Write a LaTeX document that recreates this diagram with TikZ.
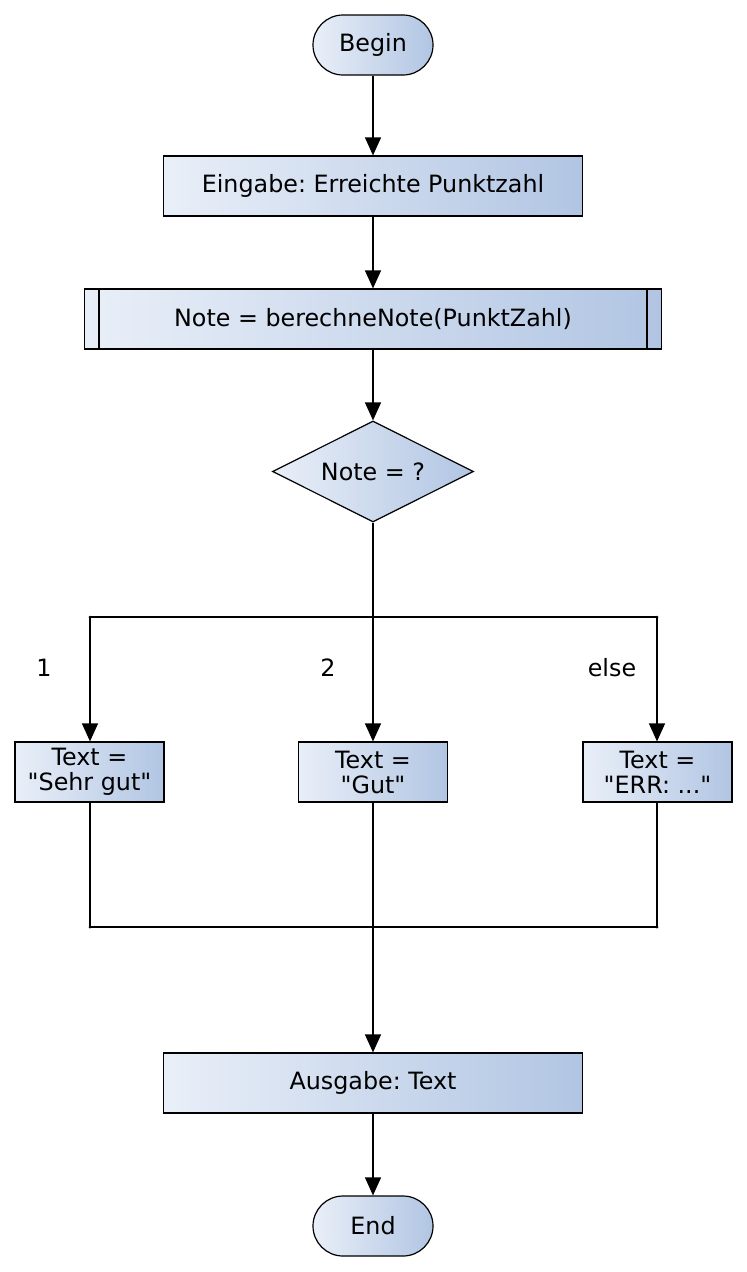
\documentclass[tikz,border=0pt]{standalone}
\usepackage{fontspec}
\setmainfont{DejaVu Sans}[Ligatures=TeXOff]
\usetikzlibrary{shapes.geometric,arrows.meta}
\definecolor{gl}{HTML}{E9EFF8}
\definecolor{gr}{HTML}{B1C5E3}
\begin{document}
\begin{tikzpicture}[x=1pt,y=-1pt,
  every node/.style={font=\frenchspacing\fontsize{23.8}{25}\selectfont, text=black},
  shd/.style={left color=gl, right color=gr, draw=black, line width=1.2pt},
  term/.style={shd, rounded corners=30pt, minimum width=120pt, minimum height=60pt, inner sep=0pt},
  proc/.style={shd, minimum width=419pt, minimum height=60pt, inner sep=0pt},
  subr/.style={shd, minimum width=577pt, minimum height=60pt, inner sep=0pt},
  dec/.style={shd, diamond, minimum width=201pt, minimum height=101pt, inner sep=0pt, aspect=2},
  tbox/.style={shd, minimum width=149pt, minimum height=60pt, inner sep=0pt, align=center},
  lbl/.style={inner sep=0pt},
  arr/.style={line width=1.3pt, -{Triangle[length=18pt,width=16pt]}},
  ln/.style={line width=1.3pt},
  dot/.style={circle, fill=black, inner sep=0pt, minimum size=3pt}
]
\useasboundingbox (0,0) rectangle (747,1272);
\fill[white] (0,0) rectangle (747,1272);

\node[term] (begin) at (373,45) {Begin};
\node[proc] (ein) at (373,186) {Eingabe: Erreichte Punktzahl};
\node[subr] (sub) at (373,319) {Note = berechneNote(PunktZahl)};
\draw[ln] ([xshift=15pt]sub.north west) -- ([xshift=15pt]sub.south west);
\draw[ln] ([xshift=-15pt]sub.north east) -- ([xshift=-15pt]sub.south east);
\node[dec] (dec) at (373,471.5) {Note = ?};

\coordinate (jl) at (90,617);
\coordinate (jm) at (373,617);
\coordinate (jr) at (657,617);
\node[tbox] (t1) at (89.5,772) {Text =\\"Sehr gut"};
\node[tbox] (t2) at (373,772) {Text =\\"Gut"};
\node[tbox] (t3) at (657.5,772) {Text =\\"ERR: ..."};
\coordinate (kl) at (90,927);
\coordinate (km) at (373,927);
\coordinate (kr) at (657,927);

\node[proc] (aus) at (373,1083) {Ausgabe: Text};
\node[term] (end) at (373,1226) {End};

\node[lbl] (l1) at (44,668) {1};
\node[lbl] (l2) at (328,668) {2};
\node[lbl] (l3) at (612,668) {else};

\draw[arr] (begin) -- (ein);
\draw[arr] (ein) -- (sub);
\draw[arr] (sub) -- (dec);
\draw[ln] (dec.south) -- (jm);
\draw[ln] (jl) -- (jr);
\draw[arr] (jl) -- (t1.north -| jl);
\draw[arr] (jm) -- (t2);
\draw[arr] (jr) -- (t3.north -| jr);
\draw[ln] (t1.south -| kl) -- (kl);
\draw[ln] (t2) -- (km);
\draw[ln] (t3.south -| kr) -- (kr);
\draw[ln] (kl) -- (kr);
\draw[arr] (km) -- (aus);
\draw[arr] (aus) -- (end);
\foreach \p in {jl,jm,jr,kl,km,kr} \node[dot] at (\p) {};
\end{tikzpicture}
\end{document}
